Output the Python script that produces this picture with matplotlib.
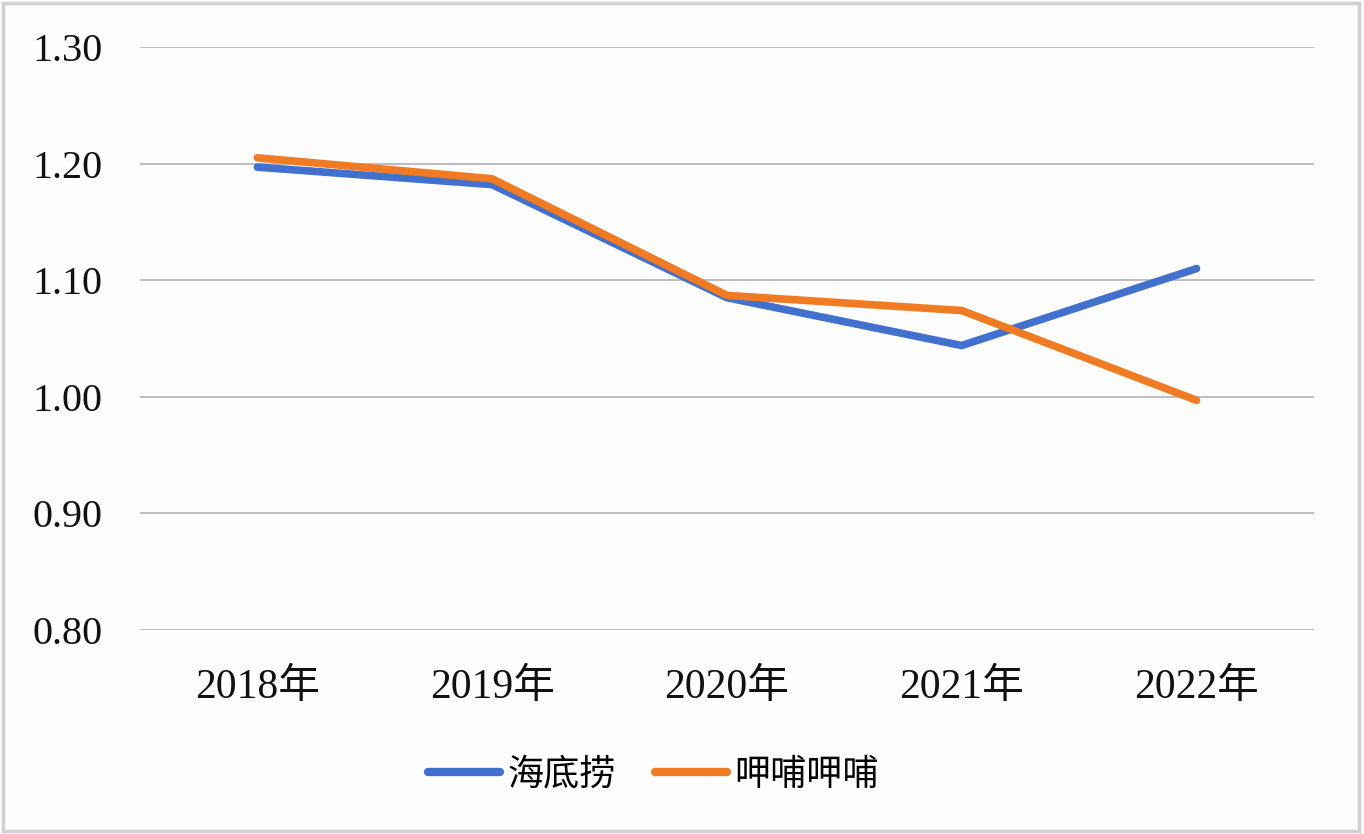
import matplotlib
matplotlib.use("Agg")
import matplotlib.pyplot as plt
from matplotlib.patches import Rectangle

# 数据
years = ["2018年", "2019年", "2020年", "2021年", "2022年"]
haidilao = [1.197, 1.182, 1.085, 1.044, 1.110]
xiabu = [1.205, 1.187, 1.087, 1.074, 0.997]

plt.rcParams['font.family'] = ['Liberation Serif', 'Noto Sans CJK SC']

fig = plt.figure(figsize=(13.64, 8.34), dpi=100)
fig.patch.set_facecolor('#fdfdfe')
ax = fig.add_axes([0.1026, 0.2446, 0.8607, 0.699])
ax.set_facecolor('#fdfdfe')

x = list(range(len(years)))
ax.plot(x, haidilao, color='#4270CE', lw=5.5, solid_capstyle='round',
        solid_joinstyle='round', label='海底捞', zorder=3)
ax.plot(x, xiabu, color='#F07B22', lw=5.5, solid_capstyle='round',
        solid_joinstyle='round', label='呷哺呷哺', zorder=3)

ax.set_xlim(-0.5, 4.5)
ax.set_ylim(0.80, 1.30)
ax.set_yticks([0.80, 0.90, 1.00, 1.10, 1.20, 1.30])
ax.set_yticklabels([f"{v:.2f}" for v in [0.80, 0.90, 1.00, 1.10, 1.20, 1.30]])
ax.set_xticks(x)
ax.set_xticklabels(years)
ax.tick_params(axis='y', length=0, pad=27, labelsize=29, colors='#111111')
ax.tick_params(axis='x', length=0, pad=28, labelsize=30, colors='#111111')
ax.grid(axis='y', color='#b8b8bc', lw=1.3)
ax.set_axisbelow(True)
for s in ax.spines.values():
    s.set_visible(False)

leg = fig.legend(loc='center', bbox_to_anchor=(0.479, 0.07), ncol=2,
                 frameon=False, fontsize=26, handlelength=2.0,
                 handletextpad=0.2, columnspacing=1.1)
for line in leg.get_lines():
    line.set_linewidth(6)

# 外框
fig.patches.append(Rectangle((0.002, 0.003), 0.994, 0.994, transform=fig.transFigure,
                             fill=False, edgecolor='#cfcfd4', lw=2.5))

fig.savefig("out.png", dpi=100, facecolor=fig.get_facecolor())
